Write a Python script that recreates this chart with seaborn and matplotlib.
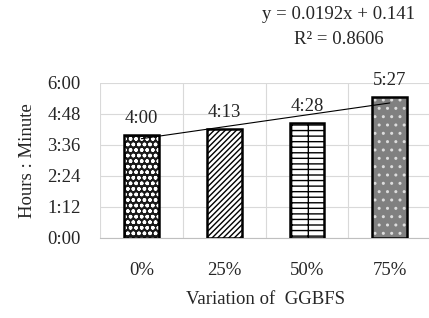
import matplotlib
matplotlib.use("Agg")
import matplotlib.pyplot as plt
import seaborn as sns
import numpy as np
import pandas as pd
from matplotlib.ticker import FuncFormatter

categories = ["0%", "25%", "50%", "75%"]
minutes = [240, 253, 268, 327]
labels = ["4:00", "4:13", "4:28", "5:27"]
trend_slope = 0.0192
trend_icpt = 0.141

sns.set_style("white")
plt.rcParams['font.family'] = ['Liberation Serif', 'DejaVu Serif']
plt.rcParams['hatch.linewidth'] = 1.0
FS = 13.5

df = pd.DataFrame({"cat": categories, "min": minutes})

fig = plt.figure(figsize=(4.29, 3.18), dpi=100)
ax = fig.add_axes([0.233, 0.2516, 0.772, 0.4874])

sns.barplot(data=df, x="cat", y="min", color="white", width=0.42,
            edgecolor="black", linewidth=1.8, ax=ax, zorder=3)

hatches = ["ooo", "//////", "--+", ".."]
faces = ["#1a1a1a", "white", "white", "#808080"]
hcols = ["white", "black", "black", "#dddddd"]
for p, h, fc, hc in zip(ax.patches, hatches, faces, hcols):
    x, w, hgt = p.get_x(), p.get_width(), p.get_height()
    ax.bar(x + w / 2, hgt, width=w, color=fc, edgecolor=hc, hatch=h,
           linewidth=0, zorder=2)
    p.set_facecolor("none")

# trendline (Excel gives it in fraction of a day)
xs = np.array([1, 4])
ys = (trend_slope * xs + trend_icpt) * 24 * 60
ax.plot(xs - 1, ys, color="black", lw=0.8, zorder=4)

for i, (v, t) in enumerate(zip(minutes, labels)):
    ax.text(i, v + 18, t, ha="center", va="bottom", fontsize=FS)

ax.set_ylim(0, 360)
ax.set_xlim(-0.5, 3.5)
ax.set_yticks([0, 72, 144, 216, 288, 360])
ax.yaxis.set_major_formatter(FuncFormatter(lambda v, p: f"{int(v)//60}:{int(v)%60:02d}"))
ax.set_xticks(np.arange(-0.5, 4, 1), minor=False)
ax.set_xticks(range(4), minor=True)
ax.set_xticklabels([])
ax.set_xticklabels(categories, minor=True)
ax.grid(True, axis="both", which="major", color="#d9d9d9", lw=0.8, zorder=0)
ax.tick_params(axis="both", which="both", length=0, labelsize=FS)
ax.tick_params(axis="x", which="minor", pad=17)
ax.tick_params(axis="y", pad=14)
for s in ["top", "right", "left"]:
    ax.spines[s].set_visible(False)
ax.spines["bottom"].set_color("#bfbfbf")

ax.set_xlabel("Variation of  GGBFS", fontsize=FS, labelpad=9)
ax.set_ylabel("Hours : Minute", fontsize=FS, labelpad=8)

fig.text(0.79, 0.955, "y = 0.0192x + 0.141", ha="center", va="center", fontsize=FS)
fig.text(0.79, 0.875, "R\u00b2 = 0.8606", ha="center", va="center", fontsize=FS)

fig.savefig("out.png", dpi=100)
